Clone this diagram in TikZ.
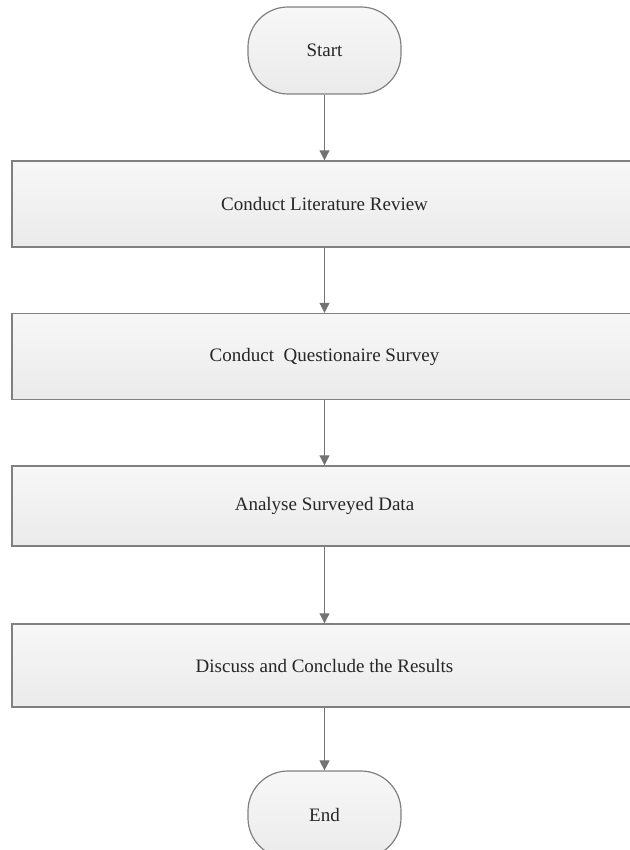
\documentclass[tikz,border=0pt]{standalone}
\usepackage{fontspec}
\setmainfont{Liberation Serif}
\usetikzlibrary{arrows.meta}

\begin{document}
\begin{tikzpicture}[x=1pt,y=-1pt]

\tikzset{terminal/.style = {shape=rectangle,draw=black!50,line width=1.2pt,rounded corners=40pt,
  top color=black!3,bottom color=black!8,minimum width=153pt,minimum height=87pt,
  font=\fontsize{19}{22}\selectfont,text=black!85}}
\tikzset{process/.style = {shape=rectangle,draw=black!50,line width=1.4pt,
  top color=black!3,bottom color=black!8,minimum width=625pt,minimum height=86pt,
  font=\fontsize{19}{22}\selectfont,text=black!85}}
\tikzset{edge/.style = {draw=black!55,line width=1pt,-{Triangle[length=10pt,width=10pt]}}}
\useasboundingbox (0,0) rectangle (629,850);
%steps
\node[terminal] (start) at (324.5,50.5) {Start};
\node[process] (review) at (324.5,204) {Conduct Literature Review};
\node[process] (survey) at (324.5,356.5) {Conduct\ \ Questionaire Survey};
\node[process, minimum height=80pt] (analyse) at (324.5,506) {Analyse Surveyed Data};
\node[process, minimum height=83pt] (discuss) at (324.5,665.5) {Discuss and Conclude the Results};
\node[terminal] (end) at (324.5,814.5) {End};
%arrows
\draw[edge] (start) -- (review);
\draw[edge] (review) -- (survey);
\draw[edge] (survey) -- (analyse);
\draw[edge] (analyse) -- (discuss);
\draw[edge] (discuss) -- (end);

\end{tikzpicture}
\end{document}
